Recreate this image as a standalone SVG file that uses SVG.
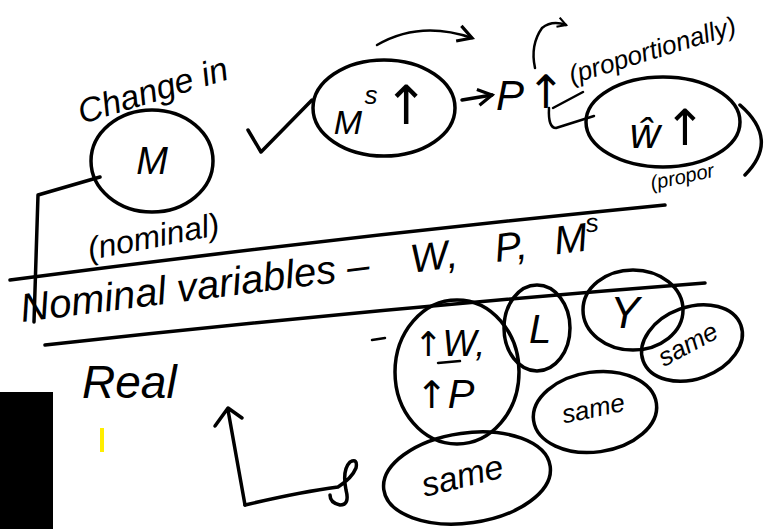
<svg xmlns="http://www.w3.org/2000/svg" width="783" height="529" viewBox="0 0 783 529">
<style>
.s{fill:none;stroke:#000;stroke-width:3.5;stroke-linecap:round;stroke-linejoin:round}
.t{stroke-width:2.5}
.h{font-family:"Liberation Sans","DejaVu Sans",sans-serif;fill:#000;font-style:italic}
.a{font-family:"DejaVu Sans",sans-serif;font-style:normal}
</style>
<defs>
<marker id="ah" viewBox="0 0 10 10" refX="8" refY="5" markerWidth="12" markerHeight="12" orient="auto" markerUnits="userSpaceOnUse">
<path d="M1,1 L8,5 L1,9" fill="none" stroke="#000" stroke-width="1.8"/>
</marker>
<marker id="ah2" viewBox="0 0 10 10" refX="8" refY="5" markerWidth="20" markerHeight="20" orient="auto" markerUnits="userSpaceOnUse">
<path d="M1,1 L8,5 L1,9" fill="none" stroke="#000" stroke-width="1.6"/>
</marker>
</defs>
<rect width="783" height="529" fill="#fff"/>
<rect x="0" y="392" width="53" height="137" fill="#000"/>
<rect x="100" y="428" width="4" height="24" fill="#ffee00"/>

<g id="dividers">
<path class="s" d="M10,280 Q330,238 665,205"/>
<path class="s" d="M45,345 Q380,308 705,283"/>
</g>

<g id="connectors">
<path class="s" d="M100,177 L38,195 L34,322"/>
<path class="s" d="M248,130 L261,152 L312,100"/>
<path class="s t" d="M377,45 Q420,20 472,38" marker-end="url(#ah2)"/>
<path class="s" d="M462,100 L492,95" marker-end="url(#ah2)"/>
<path class="s t" d="M535,68 Q530,45 542,28 Q552,20 566,25" marker-end="url(#ah)"/>
<path class="s t" d="M583,92 L553,108 M549,108 Q548,128 556,128 L594,116"/>
<path class="s" d="M245,505 L228,410 M215,426 L228,408 L242,418"/>
<path class="s" d="M245,505 Q300,492 338,487 Q352,478 356,468 Q358,458 350,462 Q342,470 346,490 Q350,505 340,505 Q330,503 330,495"/>
<path class="s" d="M740,105 Q780,140 745,175"/>
<path class="s t" d="M372,340 L385,338"/>
</g>

<g id="node-M">
<ellipse class="s" cx="152" cy="161" rx="61" ry="51"/>
<text class="h" x="152" y="174" font-size="38" text-anchor="middle">M</text>
</g>
<text class="h" x="82" y="124" font-size="34" transform="rotate(-17 82 124)">Change in</text>
<text class="h" x="90" y="260" font-size="32" transform="rotate(-11 90 260)">(nominal)</text>

<g id="node-Ms">
<ellipse class="s" cx="384" cy="108" rx="71" ry="48"/>
<text class="h" x="348" y="134" font-size="34" text-anchor="middle">M</text>
<text class="h" x="371" y="104" font-size="26" text-anchor="middle">s</text>
<text class="h a" x="406" y="124" font-size="54" text-anchor="middle">↑</text>
</g>

<g id="node-P">
<text class="h" x="496" y="110" font-size="42">P</text>
<text class="h a" x="546" y="108" font-size="46" text-anchor="middle">↑</text>
</g>
<text class="h" x="572" y="84" font-size="26" transform="rotate(-17 572 84)">(proportionally)</text>

<g id="node-W">
<ellipse class="s" cx="663" cy="122" rx="77" ry="45"/>
<text class="h" x="645" y="148" font-size="42" text-anchor="middle">ŵ</text>
<text class="h a" x="685" y="145" font-size="50" text-anchor="middle">↑</text>
</g>
<text class="h" x="652" y="190" font-size="20" transform="rotate(-12 652 190)">(propor</text>

<g transform="rotate(-7.2 22 322)">
<text class="h" x="22" y="322" font-size="40">Nominal variables –</text>
<text class="h" x="415" y="322" font-size="40">W,</text>
<text class="h" x="500" y="322" font-size="40">P,</text>
<text class="h" x="560" y="322" font-size="40">M<tspan font-size="26" dy="-18">s</tspan></text>
</g>

<text class="h" x="82" y="398" font-size="46">Real</text>

<g id="node-WP">
<ellipse class="s" cx="457" cy="372" rx="62" ry="72"/>
<text class="h" x="414" y="356" font-size="36"><tspan class="a" font-size="34">↑</tspan>W,</text>
<path class="s t" d="M438,363 L460,361"/>
<text class="h" x="416" y="408" font-size="40"><tspan class="a" font-size="38">↑</tspan>P</text>
</g>

<g id="node-L">
<ellipse class="s" cx="537" cy="328" rx="33" ry="43"/>
<text class="h" x="540" y="343" font-size="40" text-anchor="middle">L</text>
</g>

<g id="node-Y">
<ellipse class="s" cx="633" cy="310" rx="50" ry="40"/>
<text class="h" x="625" y="328" font-size="44" text-anchor="middle">Y</text>
</g>

<g id="node-same1">
<ellipse class="s" cx="692" cy="343" rx="52" ry="36" transform="rotate(-20 692 343)"/>
<text class="h" x="692" y="352" font-size="26" text-anchor="middle" transform="rotate(-28 692 352)">same</text>
</g>

<g id="node-same2">
<ellipse class="s" cx="595" cy="412" rx="62" ry="40" transform="rotate(-8 595 412)"/>
<text class="h" x="595" y="417" font-size="26" text-anchor="middle" transform="rotate(-12 595 417)">same</text>
</g>

<g id="node-same3">
<ellipse class="s" cx="467" cy="478" rx="84" ry="45" transform="rotate(-8 467 478)"/>
<text class="h" x="465" y="487" font-size="34" text-anchor="middle" transform="rotate(-14 465 487)">same</text>
</g>
</svg>
